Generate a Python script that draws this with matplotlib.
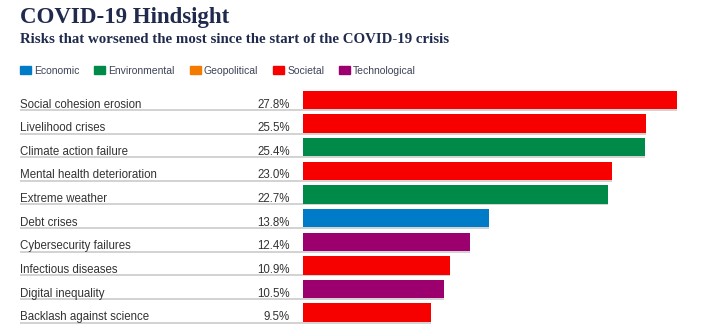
import matplotlib
matplotlib.use("Agg")
import matplotlib.pyplot as plt
from matplotlib.patches import Rectangle

title = "COVID-19 Hindsight"
subtitle = "Risks that worsened the most since the start of the COVID-19 crisis"

risks = [
    "Social cohesion erosion",
    "Livelihood crises",
    "Climate action failure",
    "Mental health deterioration",
    "Extreme weather",
    "Debt crises",
    "Cybersecurity failures",
    "Infectious diseases",
    "Digital inequality",
    "Backlash against science",
]
values = [27.8, 25.5, 25.4, 23.0, 22.7, 13.8, 12.4, 10.9, 10.5, 9.5]
categories = [
    "Societal", "Societal", "Environmental", "Societal", "Environmental",
    "Economic", "Technological", "Societal", "Technological", "Societal",
]
legend_order = ["Economic", "Environmental", "Geopolitical", "Societal", "Technological"]
palette = {
    "Economic": "#007bc8",
    "Environmental": "#008a4a",
    "Geopolitical": "#f47a00",
    "Societal": "#f70000",
    "Technological": "#9b006e",
}

W, H = 711, 328
fig = plt.figure(figsize=(W / 100, H / 100), dpi=100)
fig.patch.set_facecolor("white")

navy = "#1f2a4d"
text_gray = "#333333"
sans = ["Liberation Sans", "DejaVu Sans"]
serif = ["Liberation Serif", "DejaVu Serif"]

# header
fig.text(20 / W, 1 - 23 / H, title, family=serif, weight="bold", fontsize=16.5,
         color=navy, va="baseline", ha="left")
fig.text(20 / W, 1 - 43 / H, subtitle, family=serif, weight="bold", fontsize=10.75,
         color=navy, va="baseline", ha="left")

# legend row drawn in pixel units
renderer = fig.canvas.get_renderer()
x = 20
for cat in legend_order:
    fig.patches.append(Rectangle((x / W, 1 - 74 / H), 11 / W, 8 / H,
                                 transform=fig.transFigure, color=palette[cat]))
    t = fig.text((x + 14) / W, 1 - 74 / H, cat, family=sans, fontsize=7.5,
                 color="#3d4257", va="baseline", ha="left")
    bb = t.get_window_extent(renderer=renderer)
    x = bb.x1 + 15

# bar area: 0 at 303 px, 13.45 px per percentage point
px_per_unit = 13.45
ax_left, ax_w = 303, 400
ax = fig.add_axes([ax_left / W, 0, ax_w / W, 1])
ax.set_xlim(0, ax_w / px_per_unit)
row0, pitch = 100, 23.63
ax.set_ylim((H - row0) / pitch, -row0 / pitch)
ax.axis("off")

n = len(values)
rows = list(range(n))
ax.barh(rows, values, height=0.78, color=[palette[c] for c in categories], zorder=2)

x_label = (20 - ax_left) / px_per_unit
x_pct = (290 - ax_left) / px_per_unit
for i, (name, v) in enumerate(zip(risks, values)):
    ax.hlines(i + 0.42, x_label, v, color="#cfcfcf", lw=1.3, clip_on=False, zorder=1)
    ax.text(x_label, i + 0.32, name, family=sans, fontsize=8.3, color=text_gray,
            va="baseline", ha="left", clip_on=False)
    ax.text(x_pct, i + 0.32, f"{v:.1f}%", family=sans, fontsize=8.3, color=text_gray,
            va="baseline", ha="right", clip_on=False)

fig.savefig("out.png", dpi=100)
